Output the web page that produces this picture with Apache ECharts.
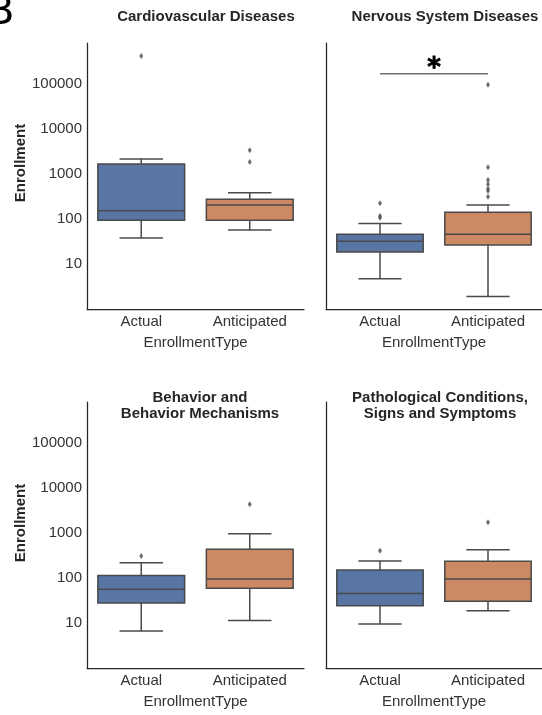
<!DOCTYPE html>
<html>
<head>
<meta charset="utf-8">
<script src="https://cdn.jsdelivr.net/npm/echarts@6/dist/echarts.min.js"></script>
<style>
  html, body { margin: 0; padding: 0; background: #fff; }
  #chart { width: 542px; height: 715px; }
</style>
</head>
<body>
<div id="chart"></div>
<script>
// box stats: [lower whisker, Q1, median, Q3, upper whisker]
var categories = ['Actual', 'Anticipated'];
var panelTitles = ['Cardiovascular Diseases', 'Nervous System Diseases',
    'Behavior and\nBehavior Mechanisms', 'Pathological Conditions,\nSigns and Symptoms'];

var cardioActual = [38, 94, 153, 1670, 2150];
var cardioAnticipated = [57, 94, 205, 274, 384];
var cardioOutliers = [[0, 420000], [1, 3360], [1, 1850]];

var nervousActual = [4.7, 18.5, 32, 46, 79];
var nervousAnticipated = [1.9, 26.4, 46, 141, 205];
var nervousOutliers = [[0, 223], [0, 117], [0, 107], [1, 96600], [1, 1410],
    [1, 736], [1, 590], [1, 472], [1, 419], [1, 313]];
var nervousSignif = 169000;

var behaviorActual = [6.6, 28, 56, 113, 219];
var behaviorAnticipated = [11.3, 59, 95, 434, 966];
var behaviorOutliers = [[0, 308], [1, 4340]];

var pathoActual = [9.5, 24.3, 45, 151, 239];
var pathoAnticipated = [18.8, 30.3, 95, 235, 426];
var pathoOutliers = [[0, 404], [1, 1727]];

var boxColors = ['#5875a4', '#cc8963'];
var edgeColor = '#4a4a4a';
var font = 'Liberation Sans, Arial, sans-serif';

var panels = [
    {boxes: [cardioActual, cardioAnticipated], outliers: cardioOutliers},
    {boxes: [nervousActual, nervousAnticipated], outliers: nervousOutliers},
    {boxes: [behaviorActual, behaviorAnticipated], outliers: behaviorOutliers},
    {boxes: [pathoActual, pathoAnticipated], outliers: pathoOutliers}
];

var grids = [
    {left: 87, top: 43, width: 217, height: 266},
    {left: 326, top: 43, width: 217, height: 266},
    {left: 87, top: 402, width: 217, height: 266},
    {left: 326, top: 402, width: 217, height: 266}
];

function renderBox(params, api) {
    var x = api.value(0);
    var lo = api.coord([x, api.value(1)]);
    var q1 = api.coord([x, api.value(2)]);
    var md = api.coord([x, api.value(3)]);
    var q3 = api.coord([x, api.value(4)]);
    var hi = api.coord([x, api.value(5)]);
    var band = api.size([1, 1])[0];
    var w = band * 0.8, cap = w / 4;
    var cx = lo[0];
    var edge = {stroke: edgeColor, lineWidth: 1.5};
    return {
        type: 'group',
        children: [
            {type: 'line', shape: {x1: cx, y1: hi[1], x2: cx, y2: q3[1]}, style: edge},
            {type: 'line', shape: {x1: cx, y1: q1[1], x2: cx, y2: lo[1]}, style: edge},
            {type: 'line', shape: {x1: cx - cap, y1: hi[1], x2: cx + cap, y2: hi[1]}, style: edge},
            {type: 'line', shape: {x1: cx - cap, y1: lo[1], x2: cx + cap, y2: lo[1]}, style: edge},
            {type: 'rect', shape: {x: cx - w / 2, y: q3[1], width: w, height: q1[1] - q3[1]},
                style: {fill: boxColors[x], stroke: edgeColor, lineWidth: 1.5}},
            {type: 'line', shape: {x1: cx - w / 2, y1: md[1], x2: cx + w / 2, y2: md[1]}, style: edge}
        ]
    };
}

// bracket between two categories with a star above its middle
function renderSignif(params, api) {
    var a = api.coord([api.value(0), api.value(2)]);
    var b = api.coord([api.value(1), api.value(2)]);
    return {
        type: 'group',
        children: [
            {type: 'line', shape: {x1: a[0], y1: a[1], x2: b[0], y2: b[1]},
                style: {stroke: '#6e6e6e', lineWidth: 1.5}},
            {type: 'text', x: (a[0] + b[0]) / 2, y: a[1] - 4,
                style: {text: '*', font: 'bold 26px DejaVu Sans', fill: '#000',
                    stroke: '#000', lineWidth: 0.8,
                    align: 'center', verticalAlign: 'middle'}}
        ]
    };
}

var xAxes = [], yAxes = [], series = [], titles = [];
var titlePos = [[201, 4], [440, 4], [195, 385], [435, 385]];

panels.forEach(function (p, i) {
    xAxes.push({
        type: 'category', gridIndex: i, data: categories,
        name: 'EnrollmentType', nameLocation: 'middle', nameGap: 26,
        nameTextStyle: {fontFamily: font, fontSize: 15, color: '#333'},
        axisLine: {lineStyle: {color: '#262626', width: 1.25}},
        axisTick: {show: false},
        axisLabel: {fontFamily: font, fontSize: 15, color: '#333', margin: 5}
    });
    yAxes.push({
        type: 'log', gridIndex: i, logBase: 10, min: 1, max: 815000,
        axisLine: {show: true, lineStyle: {color: '#262626', width: 1.25}},
        axisTick: {show: false},
        splitLine: {show: false},
        axisLabel: {
            show: i % 2 === 0, fontFamily: font, fontSize: 15, color: '#333', margin: 5,
            showMinLabel: false, showMaxLabel: false,
            formatter: function (v) { return String(Math.round(v)); }
        }
    });
    series.push({
        type: 'custom', xAxisIndex: i, yAxisIndex: i,
        renderItem: renderBox,
        encode: {x: 0, y: [1, 2, 3, 4, 5]},
        data: p.boxes.map(function (b, k) { return [k].concat(b); }),
        z: 2
    });
    series.push({
        type: 'scatter', xAxisIndex: i, yAxisIndex: i,
        symbol: 'diamond', symbolSize: [4, 6],
        itemStyle: {color: edgeColor},
        data: p.outliers, z: 3
    });
    titles.push({
        text: panelTitles[i], left: titlePos[i][0], top: titlePos[i][1], textAlign: 'center',
        textStyle: {fontFamily: font, fontSize: 15, fontWeight: 'bold', color: '#262626', lineHeight: 16}
    });
});

series.push({
    type: 'custom', xAxisIndex: 1, yAxisIndex: 1, silent: true,
    renderItem: renderSignif,
    encode: {x: [0, 1], y: 2},
    data: [[0, 1, nervousSignif]],
    z: 3
});

var chart = echarts.init(document.getElementById('chart'));
chart.setOption({
    animation: false,
    title: titles,
    grid: grids,
    xAxis: xAxes,
    yAxis: yAxes,
    series: series,
    graphic: [
        {type: 'text', left: -13, top: -6, style: {text: 'B', font: '40px DejaVu Sans', fill: '#000'}},
        {type: 'text', x: 21, y: 163, rotation: Math.PI / 2,
            style: {text: 'Enrollment', font: 'bold 15px ' + font, fill: '#262626', align: 'center', verticalAlign: 'middle'}},
        {type: 'text', x: 21, y: 523, rotation: Math.PI / 2,
            style: {text: 'Enrollment', font: 'bold 15px ' + font, fill: '#262626', align: 'center', verticalAlign: 'middle'}}
    ]
});
</script>
</body>
</html>
